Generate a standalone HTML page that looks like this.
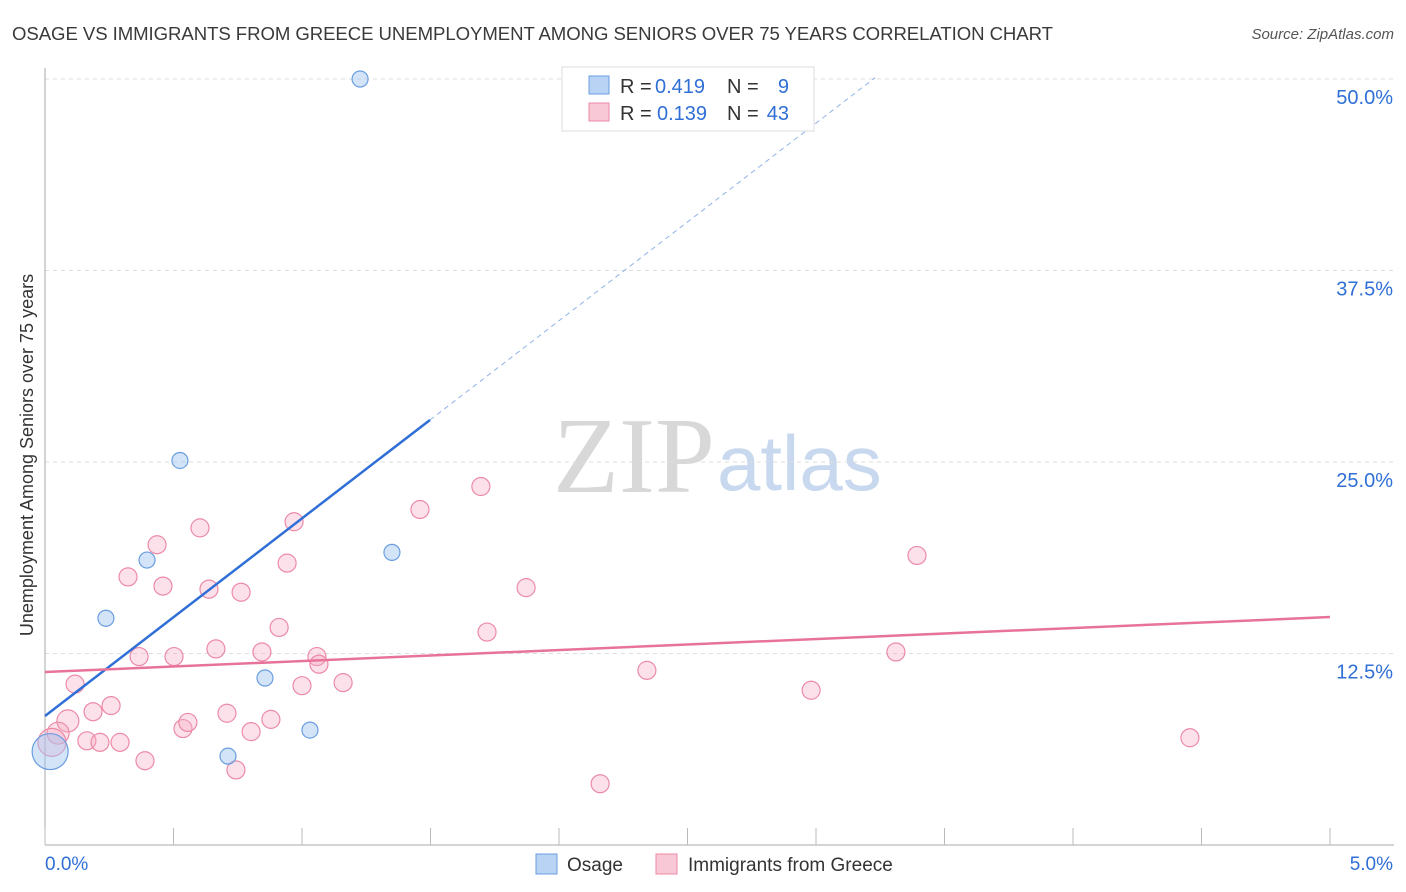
<!DOCTYPE html>
<html><head><meta charset="utf-8"><style>
body{margin:0;background:#fff;font-family:"Liberation Sans",sans-serif;}
svg{display:block}
</style></head><body>
<svg id="c" width="1406" height="892">
<text x="12" y="40" font-size="18.6" fill="#3a3a3a" textLength="1041">OSAGE VS IMMIGRANTS FROM GREECE UNEMPLOYMENT AMONG SENIORS OVER 75 YEARS CORRELATION CHART</text>
<text x="1394" y="39" font-size="15" fill="#555" font-style="italic" text-anchor="end">Source: ZipAtlas.com</text>
<text x="33" y="455" font-size="18" fill="#333" text-anchor="middle" transform="rotate(-90 33 455)">Unemployment Among Seniors over 75 years</text>
<text x="553" y="492" font-size="108" fill="#d8d8d8" font-family="Liberation Serif,serif">ZIP</text>
<text x="717" y="490" font-size="78" fill="#c8d8ef">atlas</text>
<g id="grid"></g><g id="marks"></g>
<g>
<rect x="562" y="67" width="252" height="64" fill="#fff" stroke="#ddd"/>
<rect x="589" y="76" width="20" height="18" fill="#b8d3f4" stroke="#6a9ee0"/>
<rect x="589" y="103" width="20" height="18" fill="#f9c8d6" stroke="#ec8aa6"/>
<text x="620" y="93" font-size="20" fill="#333">R =</text>
<text x="655" y="93" font-size="20" fill="#2f6fd6">0.419</text>
<text x="727" y="93" font-size="20" fill="#333">N =</text>
<text x="789" y="93" font-size="20" fill="#2f6fd6" text-anchor="end">9</text>
<text x="620" y="120" font-size="20" fill="#333">R =</text>
<text x="657" y="120" font-size="20" fill="#2f6fd6">0.139</text>
<text x="727" y="120" font-size="20" fill="#333">N =</text>
<text x="789" y="120" font-size="20" fill="#2f6fd6" text-anchor="end">43</text>
</g>
<g>
<rect x="536" y="854" width="21" height="20" fill="#b8d3f4" stroke="#6a9ee0"/>
<text x="567" y="871" font-size="19" fill="#333">Osage</text>
<rect x="656" y="854" width="21" height="20" fill="#f9c8d6" stroke="#ec8aa6"/>
<text x="688" y="871" font-size="19" fill="#333">Immigrants from Greece</text>
</g>
</svg>
<script>
const yTicks=[12.5,25,37.5,50];
const xTickLabels=["0.0%","5.0%"];
const osageX=[1.226,0.525,0.397,0.237,1.350,0.856,1.031,0.712,0.02];
const osageY=[50.0,25.1,18.6,14.8,19.1,10.9,7.5,5.8,6.1];
const osageR=[8,8,8,8,8,8,8,8,18];
const greeceX=[0.117,0.089,0.051,0.027,0.163,0.214,0.187,0.257,0.292,0.389,0.323,0.436,0.459,0.366,0.502,0.537,0.556,0.603,0.638,0.665,0.708,0.743,0.763,0.802,0.844,0.879,0.911,0.942,0.969,1.0,1.058,1.066,1.160,1.459,1.696,1.720,1.872,2.160,2.342,2.981,3.311,3.393,4.455];
const greeceY=[10.5,8.1,7.3,6.7,6.8,6.7,8.7,9.1,6.7,5.5,17.5,19.6,16.9,12.3,12.3,7.6,8.0,20.7,16.7,12.8,8.6,4.9,16.5,7.4,12.6,8.2,14.2,18.4,21.1,10.4,12.3,11.8,10.6,21.9,23.4,13.9,16.8,4.0,11.4,10.1,12.6,18.9,7.0];
const greeceR=[9,11,11,14];
const osageTrend=[8.42,12.9];const greeceTrend=[11.29,0.718];
const X=v=>45+v/5*1285, Y=v=>845-v*15.32;
const NS="http://www.w3.org/2000/svg";
function mk(t,a,p){const e=document.createElementNS(NS,t);for(const k in a)e.setAttribute(k,a[k]);p.appendChild(e);return e;}
const g=document.getElementById('grid'),m=document.getElementById('marks');
yTicks.forEach(t=>{
 const l=mk('line',{x1:45,x2:1394,y1:Y(t),y2:Y(t),stroke:'#ddd','stroke-dasharray':'4 4'},g);
 
 
 const tx=mk('text',{x:1393,y:Y(t)+25,'font-size':20,fill:'#2f6fd6','text-anchor':'end'},g);tx.textContent=t.toFixed(1)+'%';
 
 
});
mk('line',{x1:45,x2:45,y1:68,y2:845,stroke:'#aaa'},g);
mk('line',{x1:45,x2:1394,y1:845,y2:845,stroke:'#aaa'},g);
for(let i=0;i<=10;i++){mk('line',{x1:X(i*0.5),x2:X(i*0.5),y1:828,y2:845,stroke:'#bbb'},g);}
xTickLabels.forEach((s,i)=>{const t=mk('text',{x:i?1393:45,y:870,'font-size':19,fill:'#2f6fd6','text-anchor':i?'end':'start'},g);t.textContent=s;
 
 });
greeceX.forEach((x,i)=>{const c=mk('circle',{cx:X(x),cy:Y(greeceY[i]),r:greeceR[i]||9,fill:'rgba(246,170,195,0.35)',stroke:'#ec8aa6','stroke-width':1.2},m);
 
 });
osageX.forEach((x,i)=>{const c=mk('circle',{cx:X(x),cy:Y(osageY[i]),r:osageR[i],fill:'rgba(160,195,240,0.45)',stroke:'#6a9ee0','stroke-width':1.2},m);
 
 });
const bl=mk('line',{x1:X(0),y1:Y(osageTrend[0]),x2:X(1.498),y2:Y(osageTrend[0]+osageTrend[1]*1.498),stroke:'#2f6fd6','stroke-width':2.5},m);


const bd=mk('line',{x1:X(1.498),y1:Y(osageTrend[0]+osageTrend[1]*1.498),x2:X(3.23),y2:Y(osageTrend[0]+osageTrend[1]*3.23),stroke:'#8fb3e8','stroke-width':1,'stroke-dasharray':'5 4'},m);


const pl=mk('line',{x1:X(0),y1:Y(greeceTrend[0]),x2:X(5),y2:Y(greeceTrend[0]+greeceTrend[1]*5),stroke:'#e8739a','stroke-width':2.5},m);


</script>
</body></html>
